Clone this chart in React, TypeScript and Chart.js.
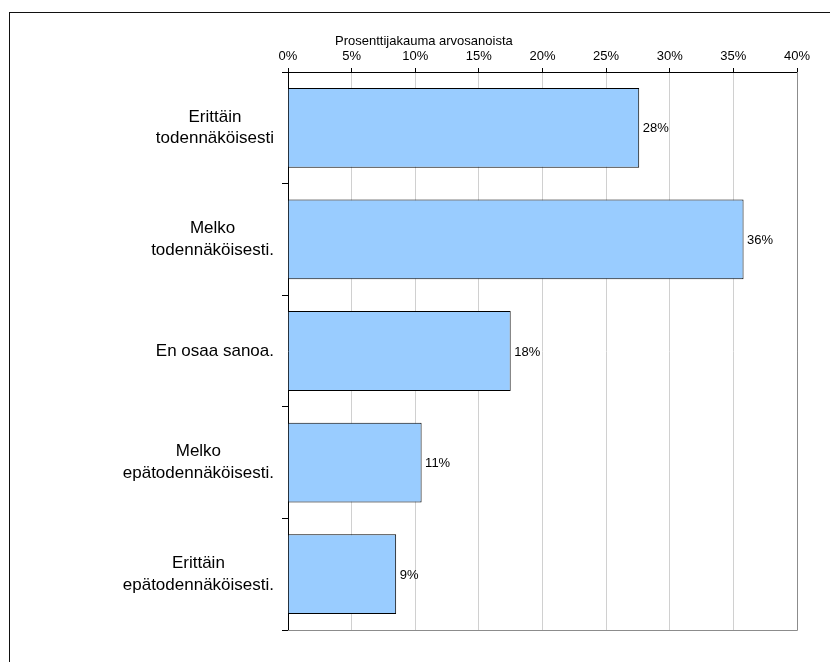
import React, { useEffect, useRef } from "react";
import { Chart, registerables } from "chart.js";

Chart.register(...registerables);

const categories: (string | string[])[] = [
  ["Erittäin", "todennäköisesti"],
  ["Melko", "todennäköisesti."],
  "En osaa sanoa.",
  ["Melko", "epätodennäköisesti."],
  ["Erittäin", "epätodennäköisesti."],
];
const shares: number[] = [27.6, 35.8, 17.5, 10.5, 8.5];
const shareLabels: string[] = ["28%", "36%", "18%", "11%", "9%"];
const axisTitle = "Prosenttijakauma arvosanoista";
const xMin = 0;
const xMax = 40;
const xStep = 5;

const FONT = "'Liberation Sans', Arial, sans-serif";

export default function App() {
  const ref = useRef<HTMLCanvasElement | null>(null);

  useEffect(() => {
    if (!ref.current) return;

    const decor = {
      id: "decor",
      afterDatasetsDraw(chart: any) {
        const { ctx, chartArea } = chart;
        ctx.save();
        // gray right and bottom border of the plot area
        ctx.strokeStyle = "#8c8c8c";
        ctx.lineWidth = 1;
        ctx.beginPath();
        ctx.moveTo(Math.round(chartArea.right) + 0.5, Math.round(chartArea.top));
        ctx.lineTo(Math.round(chartArea.right) + 0.5, Math.round(chartArea.bottom) + 0.5);
        ctx.lineTo(Math.round(chartArea.left), Math.round(chartArea.bottom) + 0.5);
        ctx.stroke();
        // value labels
        const meta = chart.getDatasetMeta(0);
        ctx.fillStyle = "#000";
        ctx.font = `13px ${FONT}`;
        ctx.textAlign = "left";
        ctx.textBaseline = "middle";
        meta.data.forEach((el: any, i: number) => {
          ctx.fillText(shareLabels[i], el.x + 3.5, el.y + 1);
        });
        ctx.restore();
      },
      afterDraw(chart: any) {
        const { ctx, chartArea } = chart;
        ctx.save();
        ctx.fillStyle = "#000";
        ctx.font = `13px ${FONT}`;
        ctx.textAlign = "left";
        ctx.textBaseline = "alphabetic";
        ctx.fillText(axisTitle, chartArea.left + 47, chartArea.top - 27);

        // category labels: each block right-aligned at the axis, lines centred within the block
        const yScale = chart.scales.y;
        ctx.font = `17px ${FONT}`;
        ctx.textAlign = "center";
        ctx.textBaseline = "middle";
        const lineH = 21.8;
        const blockRight = chartArea.left - 14;
        categories.forEach((lab, i) => {
          const lines = Array.isArray(lab) ? lab : [lab];
          const w = Math.max(...lines.map((l) => ctx.measureText(l).width));
          const cx = blockRight - w / 2;
          const cy = yScale.getPixelForTick(i);
          lines.forEach((l, k) => {
            const y = cy + (k - (lines.length - 1) / 2) * lineH;
            ctx.fillText(l, cx, y);
          });
        });
        ctx.restore();
      },
    };

    const chart = new Chart(ref.current, {
      type: "bar",
      data: {
        labels: categories,
        datasets: [
          {
            data: shares,
            backgroundColor: "#99CCFF",
            borderColor: "#000",
            borderWidth: 1,
            categoryPercentage: 1,
            barPercentage: 0.715,
          },
        ],
      },
      options: {
        indexAxis: "y",
        animation: false,
        responsive: false,
        maintainAspectRatio: false,
        layout: { padding: { left: 0, top: 0, right: 33, bottom: 32 } },
        plugins: {
          legend: { display: false },
          tooltip: { enabled: false },
          title: { display: false },
        },
        scales: {
          x: {
            type: "linear",
            position: "top",
            min: xMin,
            max: xMax,
            afterFit(scale: any) {
              scale.height = 72;
            },
            ticks: {
              stepSize: xStep,
              color: "#000",
              padding: 4,
              font: { family: FONT, size: 13 },
              callback: (v: any) => `${v}%`,
              maxRotation: 0,
            },
            grid: {
              color: (c: any) => (c.tick && c.tick.value === xMax ? "#8c8c8c" : "#d0d0d0"),
              lineWidth: 1,
              drawTicks: true,
              tickLength: 4,
              tickColor: "#000",
            },
            border: { display: true, color: "#000", width: 1 },
          },
          y: {
            type: "category",
            position: "left",
            afterFit(scale: any) {
              scale.width = 288;
            },
            ticks: {
              display: false,
              autoSkip: false,
            },
            grid: {
              offset: true,
              drawOnChartArea: false,
              drawTicks: true,
              tickLength: 6,
              tickColor: "#000",
              color: "#000",
            },
            border: { display: true, color: "#000", width: 1 },
          },
        },
      },
      plugins: [decor],
    } as any);

    return () => chart.destroy();
  }, []);

  return (
    <div style={{ position: "absolute", left: 0, top: 0, width: 830, height: 662, background: "#fff" }}>
      <div
        style={{
          position: "absolute",
          left: 9,
          top: 12,
          width: 821,
          height: 650,
          borderLeft: "1px solid #111",
          borderTop: "1px solid #111",
          boxSizing: "border-box",
        }}
      />
      <canvas ref={ref} width={830} height={662} style={{ position: "absolute", left: 0, top: 0, width: 830, height: 662 }} />
    </div>
  );
}
